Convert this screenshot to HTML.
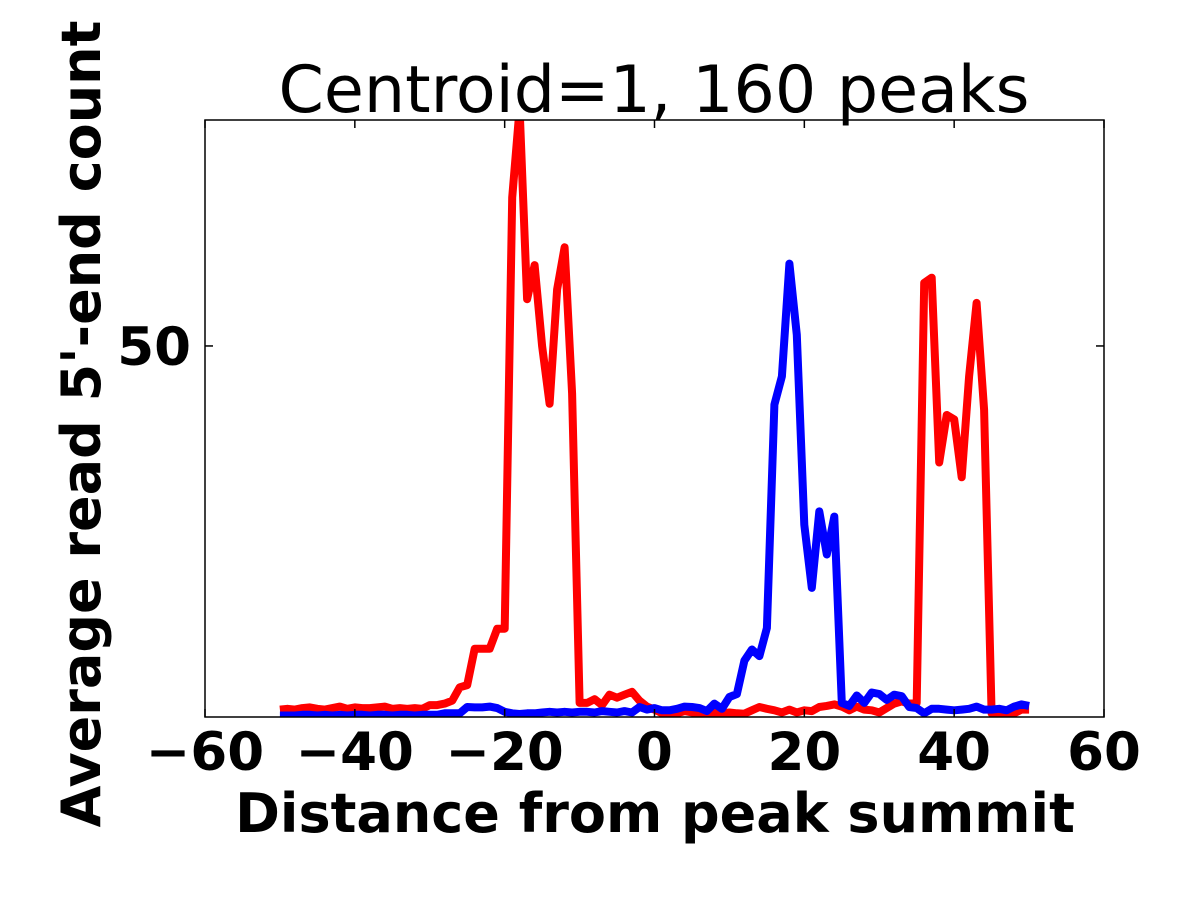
<!DOCTYPE html>
<html><head><meta charset="utf-8"><style>
html,body{margin:0;padding:0;background:#fff;}
svg{display:block;font-family:"DejaVu Sans","Liberation Sans",sans-serif;}
</style></head><body>
<svg id="chart" width="1200" height="900">
<text x="654" y="112" text-anchor="middle" font-size="65">Centroid=1, 160 peaks</text>
<g id="series"></g>
<rect x="205" y="120" width="899" height="597" fill="none" stroke="#000" stroke-width="1.5"/>
<g id="ticks"></g>
<text x="655" y="832" text-anchor="middle" font-size="54" font-weight="bold">Distance from peak summit</text>
<text transform="translate(100,424) rotate(-90)" text-anchor="middle" font-size="54" font-weight="bold">Average read 5'-end count</text>
</svg>
<script>
const xTicks=[-60,-40,-20,0,20,40,60];
const yTicks=[50];
const positions=[-50,-49,-48,-47,-46,-45,-44,-43,-42,-41,-40,-39,-38,-37,-36,-35,-34,-33,-32,-31,-30,-29,-28,-27,-26,-25,-24,-23,-22,-21,-20,-19,-18,-17,-16,-15,-14,-13,-12,-11,-10,-9,-8,-7,-6,-5,-4,-3,-2,-1,0,1,2,3,4,5,6,7,8,9,10,11,12,13,14,15,16,17,18,19,20,21,22,23,24,25,26,27,28,29,30,31,32,33,34,35,36,37,38,39,40,41,42,43,44,45,46,47,48,49,50];
const redValues=[1.0,1.1,1.0,1.2,1.3,1.1,1.0,1.2,1.4,1.1,1.3,1.2,1.2,1.3,1.4,1.1,1.2,1.1,1.2,1.1,1.6,1.6,1.8,2.2,4.0,4.3,9.2,9.2,9.2,11.9,11.9,70,82,56.3,60.9,50,42.2,57.6,63.3,43.6,1.9,1.9,2.4,1.6,3.0,2.6,3.0,3.4,2.2,1.4,1.0,0.5,0.3,0.5,0.8,0.6,0.5,0.3,0.6,0.5,0.6,0.5,0.45,0.9,1.35,1.1,0.9,0.6,1.0,0.6,0.9,0.8,1.35,1.5,1.7,1.4,0.9,1.4,1.0,0.9,0.6,1.2,1.8,2.1,1.8,1.9,58.5,59.2,34.3,40.7,40.1,32.3,45.9,55.8,41.4,0.5,0.3,0.3,0.5,1.0,1.0];
const blueValues=[0.2,0.2,0.2,0.3,0.3,0.2,0.3,0.2,0.3,0.2,0.3,0.3,0.2,0.3,0.3,0.2,0.3,0.3,0.2,0.3,0.3,0.3,0.5,0.5,0.5,1.35,1.3,1.3,1.4,1.2,0.7,0.5,0.4,0.5,0.5,0.6,0.7,0.6,0.7,0.6,0.7,0.7,0.6,0.8,0.7,0.6,0.8,0.6,1.35,1.0,1.2,0.9,0.9,1.1,1.4,1.35,1.2,0.8,1.8,1.1,2.7,3.1,7.6,9.1,8.2,12,42.1,45.9,61.1,51.5,25.9,17.4,27.7,21.9,27,1.9,1.5,2.9,1.9,3.3,3.1,2.3,3.0,2.8,1.35,1.2,0.5,1.1,1.1,1.0,0.9,1.0,1.1,1.4,1.0,1.0,1.1,0.9,1.4,1.7,1.5];
const X0=205,X1=1104,Y0=717,Y1=120,xmin=-60,xmax=60,ymin=0,ymax=80.45;
const sx=v=>X0+(v-xmin)/(xmax-xmin)*(X1-X0);
const sy=v=>Y0-(v-ymin)/(ymax-ymin)*(Y0-Y1);
const NS="http://www.w3.org/2000/svg";
const ser=document.getElementById('series');
ser.innerHTML='<clipPath id="clip"><rect x="205" y="120" width="899" height="597"/></clipPath>';
function line(vals,color,name){
  const p=document.createElementNS(NS,'polyline');
  p.setAttribute('points',vals.map((v,i)=>sx(positions[i]).toFixed(1)+','+sy(v).toFixed(1)).join(' '));
  p.setAttribute('fill','none');p.setAttribute('stroke',color);p.setAttribute('stroke-width','8');
  p.setAttribute('stroke-linejoin','round');p.setAttribute('clip-path','url(#clip)');
  
  
  ser.appendChild(p);
}
line(redValues,'#ff0000','red-series-line');
line(blueValues,'#0000ff','blue-series-line');
const tk=document.getElementById('ticks');
xTicks.forEach(t=>{
  const x=sx(t);
  const g=document.createElementNS(NS,'g');
  
  
  g.innerHTML=`<line x1="${x}" y1="717" x2="${x}" y2="709" stroke="#000" stroke-width="1.5"/><line x1="${x}" y1="120" x2="${x}" y2="128" stroke="#000" stroke-width="1.5"/><text x="${x}" y="770" text-anchor="middle" font-size="53" font-weight="bold">${t<0?'\u2212'+(-t):t}</text>`;
  tk.appendChild(g);
});
yTicks.forEach(t=>{
  const y=sy(t);
  const g=document.createElementNS(NS,'g');
  
  
  g.innerHTML=`<line x1="205" y1="${y}" x2="213" y2="${y}" stroke="#000" stroke-width="1.5"/><line x1="1104" y1="${y}" x2="1096" y2="${y}" stroke="#000" stroke-width="1.5"/><text x="191" y="${y+19}" text-anchor="end" font-size="53" font-weight="bold">${t}</text>`;
  tk.appendChild(g);
});
</script>
</body></html>
